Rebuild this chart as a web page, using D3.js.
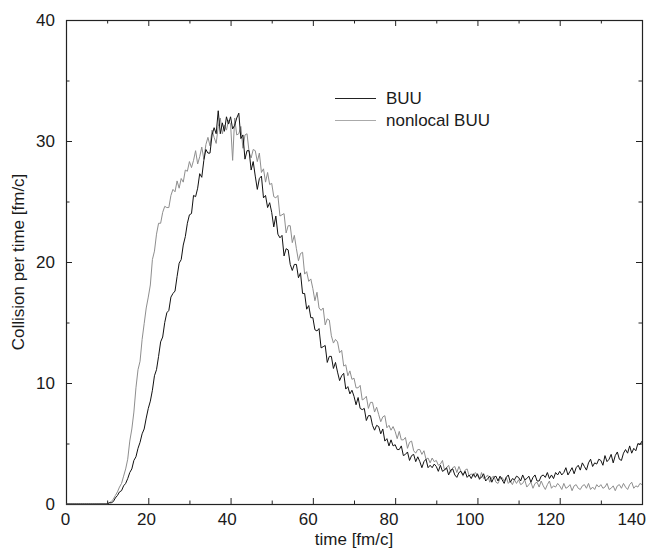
<!DOCTYPE html>
<html>
<head>
<meta charset="utf-8">
<script src="https://cdn.jsdelivr.net/npm/d3@7"></script>
<style>
body { margin: 0; background: #fff; }
svg text { font-family: "Liberation Sans", Arial, Helvetica, sans-serif; font-size: 17px; fill: #1a1a1a; }
.axis line { stroke: #222; }
.axis path { display: none; }
</style>
</head>
<body>
<svg id="chart" width="647" height="550"></svg>
<script>
//------------------------------------------------------------------------------
// Data (collision rate sampled every half fm/c, starting at t = 0)

var timeStart = 0;
var timeStep = 0.5;

var buu = [
	0, 0, 0, 0, 0, 0, 0, 0, 0, 0,
	0, 0, 0, 0, 0, 0, 0, 0, 0, 0,
	0.0, 0.1, 0.1, 0.2, 0.5, 0.7, 1.0, 1.1, 1.5, 1.7,
	2.1, 2.6, 2.9, 3.6, 3.9, 4.6, 5.1, 5.8, 6.2, 7.1,
	7.9, 8.5, 9.4, 10.6, 11.1, 12.2, 13.4, 13.8, 15.0, 15.8,
	16.0, 17.1, 17.4, 17.6, 18.8, 19.9, 20.2, 21.4, 22.1, 23.2,
	23.9, 24.0, 25.5, 25.4, 26.1, 27.3, 27.0, 28.4, 29.3, 29.0,
	29.0, 30.5, 31.1, 30.6, 32.5, 30.6, 31.5, 30.8, 32.0, 31.4,
	32.0, 31.0, 31.3, 31.9, 32.3, 30.2, 30.5, 28.5, 29.2, 29.2,
	27.6, 28.3, 27.1, 26.0, 26.9, 27.1, 25.3, 25.5, 24.5, 24.9,
	24.1, 22.9, 23.8, 22.3, 22.0, 22.2, 20.5, 21.1, 21.0, 19.8,
	19.3, 19.8, 19.8, 18.7, 19.1, 17.4, 17.4, 16.1, 16.4, 15.4,
	15.4, 14.4, 14.3, 14.5, 12.9, 13.0, 13.1, 11.7, 12.2, 12.2,
	11.2, 11.7, 10.9, 10.2, 10.6, 10.8, 9.5, 9.7, 9.1, 9.4,
	8.9, 8.2, 8.8, 7.9, 7.8, 7.9, 6.9, 7.3, 7.3, 6.5,
	6.1, 6.5, 6.4, 5.8, 6.2, 5.2, 5.4, 4.8, 5.3, 4.8,
	4.9, 4.5, 4.5, 4.8, 4.0, 4.1, 4.3, 3.6, 4.0, 4.1,
	3.5, 3.9, 3.5, 3.0, 3.5, 3.7, 3.0, 3.2, 3.0, 3.3,
	3.1, 2.7, 3.2, 2.7, 2.8, 3.0, 2.4, 2.8, 2.9, 2.4,
	2.2, 2.6, 2.7, 2.4, 2.7, 2.2, 2.4, 2.1, 2.5, 2.2,
	2.5, 2.1, 2.2, 2.5, 1.9, 2.1, 2.3, 1.8, 2.2, 2.3,
	1.9, 2.3, 2.0, 1.7, 2.2, 2.4, 1.8, 2.1, 2.0, 2.3,
	2.2, 1.9, 2.4, 2.0, 2.1, 2.3, 1.8, 2.2, 2.4, 1.9,
	1.9, 2.3, 2.4, 2.2, 2.6, 2.1, 2.4, 2.1, 2.6, 2.4,
	2.7, 2.4, 2.6, 3.0, 2.4, 2.7, 3.0, 2.5, 3.0, 3.2,
	2.8, 3.4, 3.1, 2.8, 3.4, 3.7, 3.1, 3.4, 3.3, 3.7,
	3.6, 3.2, 4.0, 3.5, 3.7, 4.1, 3.4, 4.0, 4.3, 3.7,
	3.6, 4.2, 4.5, 4.2, 4.8, 4.2, 4.6, 4.4, 5.0, 4.9,
	5.2
];

var nonlocalBuu = [
	0, 0, 0, 0, 0, 0, 0, 0, 0, 0,
	0, 0, 0, 0, 0, 0, 0, 0, 0, 0,
	0.0, 0.1, 0.2, 0.4, 0.7, 1.0, 1.4, 1.7, 2.3, 2.9,
	3.7, 5.2, 6.2, 7.6, 9.6, 11.1, 11.8, 13.6, 14.9, 16.2,
	17.1, 18.1, 20.2, 20.9, 22.3, 23.2, 23.2, 24.1, 24.6, 24.5,
	24.5, 25.5, 26.0, 25.8, 26.7, 26.1, 26.9, 26.6, 27.6, 27.5,
	28.3, 27.8, 28.4, 29.2, 28.1, 28.7, 29.5, 28.5, 29.7, 30.3,
	29.6, 30.9, 30.3, 29.8, 31.2, 31.9, 30.6, 31.3, 30.9, 31.7,
	31.4, 28.4, 31.9, 30.5, 30.6, 31.2, 29.4, 30.5, 30.6, 29.1,
	28.6, 29.3, 29.2, 28.3, 29.0, 27.4, 27.7, 26.6, 27.4, 26.4,
	26.5, 25.4, 25.3, 25.5, 23.8, 23.9, 24.0, 22.4, 23.0, 23.0,
	21.6, 22.2, 21.1, 20.1, 20.7, 20.8, 19.0, 19.2, 18.4, 18.6,
	17.8, 16.8, 17.5, 16.2, 16.0, 16.2, 14.8, 15.3, 15.2, 13.9,
	13.3, 13.6, 13.4, 12.5, 12.7, 11.4, 11.5, 10.6, 11.0, 10.3,
	10.4, 9.6, 9.6, 9.8, 8.6, 8.7, 8.9, 7.9, 8.4, 8.4,
	7.6, 8.0, 7.4, 6.8, 7.2, 7.3, 6.3, 6.5, 6.1, 6.4,
	6.0, 5.4, 6.0, 5.3, 5.3, 5.5, 4.6, 5.1, 5.2, 4.4,
	4.2, 4.5, 4.5, 4.1, 4.4, 3.7, 3.8, 3.4, 3.8, 3.5,
	3.6, 3.2, 3.3, 3.6, 2.8, 3.0, 3.2, 2.6, 3.0, 3.1,
	2.6, 3.1, 2.7, 2.3, 2.8, 2.9, 2.3, 2.5, 2.3, 2.6,
	2.4, 2.0, 2.6, 2.1, 2.2, 2.4, 1.8, 2.2, 2.3, 1.8,
	1.7, 2.1, 2.2, 1.9, 2.2, 1.7, 1.9, 1.6, 2.0, 1.7,
	2.0, 1.6, 1.7, 2.0, 1.4, 1.6, 1.8, 1.3, 1.7, 1.8,
	1.4, 1.9, 1.5, 1.2, 1.6, 1.9, 1.3, 1.5, 1.4, 1.7,
	1.5, 1.2, 1.7, 1.3, 1.4, 1.6, 1.1, 1.5, 1.6, 1.3,
	1.2, 1.5, 1.6, 1.3, 1.7, 1.2, 1.4, 1.2, 1.6, 1.4,
	1.6, 1.3, 1.4, 1.7, 1.2, 1.3, 1.5, 1.1, 1.5, 1.6,
	1.3, 1.7, 1.4, 1.2, 1.6, 1.8, 1.3, 1.5, 1.4, 1.7,
	1.6
];

var seriesNames = ['BUU', 'nonlocal BUU'];
var seriesColors = ['#111', '#8e8e8e'];
var legendColors = ['#222', '#aaa'];

var xMajorTicks = [0, 20, 40, 60, 80, 100, 120, 140];
var xMinorTicks = [10, 30, 50, 70, 90, 110, 130];
var yMajorTicks = [0, 10, 20, 30, 40];
var yMinorTicks = [5, 15, 25, 35];

var xTitle = 'time [fm/c]';
var yTitle = 'Collision per time [fm/c]';

//------------------------------------------------------------------------------
// Layout

var svg = d3.select('#chart');
var margin = { top: 20, right: 5, bottom: 46, left: 66 };
var width = 647 - margin.left - margin.right;
var height = 550 - margin.top - margin.bottom;

var x = d3.scaleLinear().domain([0, 140]).range([0, width]);
var y = d3.scaleLinear().domain([0, 40]).range([height, 0]);

var g = svg.append('g')
	.attr('transform', 'translate(' + margin.left + ',' + margin.top + ')');

//------------------------------------------------------------------------------
// Axes (ticks point inward on all four sides)

function addAxis(axis, cls, transform)
{
	return g.append('g')
		.attr('class', 'axis ' + cls)
		.attr('transform', transform || null)
		.call(axis);
}

addAxis(d3.axisBottom(x).tickValues(xMajorTicks).tickSize(-6).tickPadding(9),
	'x-bottom', 'translate(0,' + height + ')');
addAxis(d3.axisBottom(x).tickValues(xMinorTicks).tickSize(-3.5).tickFormat(''),
	'x-bottom-minor', 'translate(0,' + height + ')');
addAxis(d3.axisTop(x).tickValues(xMajorTicks).tickSize(-6).tickFormat(''), 'x-top');
addAxis(d3.axisTop(x).tickValues(xMinorTicks).tickSize(-3.5).tickFormat(''), 'x-top-minor');

addAxis(d3.axisLeft(y).tickValues(yMajorTicks).tickSize(-6).tickPadding(11), 'y-left');
addAxis(d3.axisLeft(y).tickValues(yMinorTicks).tickSize(-3.5).tickFormat(''), 'y-left-minor');
addAxis(d3.axisRight(y).tickValues(yMajorTicks).tickSize(-6).tickFormat(''),
	'y-right', 'translate(' + width + ',0)');
addAxis(d3.axisRight(y).tickValues(yMinorTicks).tickSize(-3.5).tickFormat(''),
	'y-right-minor', 'translate(' + width + ',0)');

g.selectAll('.axis text')
	.style('font-size', '17px')
	.attr('fill', '#1a1a1a')
;

// the original labels drift slightly left of their ticks toward the right end
g.select('.x-bottom').selectAll('text')
	.attr('dx', function (d) { return -(1 + 0.07 * d); })
;

g.append('rect')
	.attr('x', 0.5)
	.attr('y', 0.5)
	.attr('width', width)
	.attr('height', height)
	.attr('fill', 'none')
	.attr('stroke', '#222')
	.attr('stroke-width', 1.2)
;

//------------------------------------------------------------------------------
// Curves

var line = d3.line()
	.x(function (d, i) { return x(timeStart + i * timeStep); })
	.y(function (d) { return y(d); })
;

g.append('g').attr('class', 'curves')
	.selectAll('path')
	.data([nonlocalBuu, buu])
	.enter().append('path')
	.attr('d', line)
	.attr('fill', 'none')
	.attr('stroke', function (d, i) { return i == 0 ? seriesColors[1] : seriesColors[0]; })
	.attr('stroke-width', 1)
	.attr('stroke-linejoin', 'round')
;

//------------------------------------------------------------------------------
// Titles

svg.append('text')
	.attr('x', margin.left + width / 2)
	.attr('y', 545)
	.attr('text-anchor', 'middle')
	.text(xTitle)
;

svg.append('text')
	.attr('transform', 'translate(24,' + (margin.top + height / 2) + ') rotate(-90)')
	.attr('text-anchor', 'middle')
	.text(yTitle)
;

//------------------------------------------------------------------------------
// Legend

var legend = svg.append('g')
	.attr('class', 'legend')
	.attr('transform', 'translate(335,98)');

var items = legend.selectAll('g')
	.data(seriesNames)
	.enter().append('g')
	.attr('transform', function (d, i) { return 'translate(0,' + (i * 22) + ')'; })
;
items.append('line')
	.attr('x1', 0)
	.attr('x2', 41)
	.attr('y1', 0.5)
	.attr('y2', 0.5)
	.attr('stroke', function (d, i) { return legendColors[i]; })
	.attr('stroke-width', 1.2)
;
items.append('text')
	.attr('x', 51)
	.attr('y', 6)
	.text(function (d) { return d; })
;
</script>
</body>
</html>
